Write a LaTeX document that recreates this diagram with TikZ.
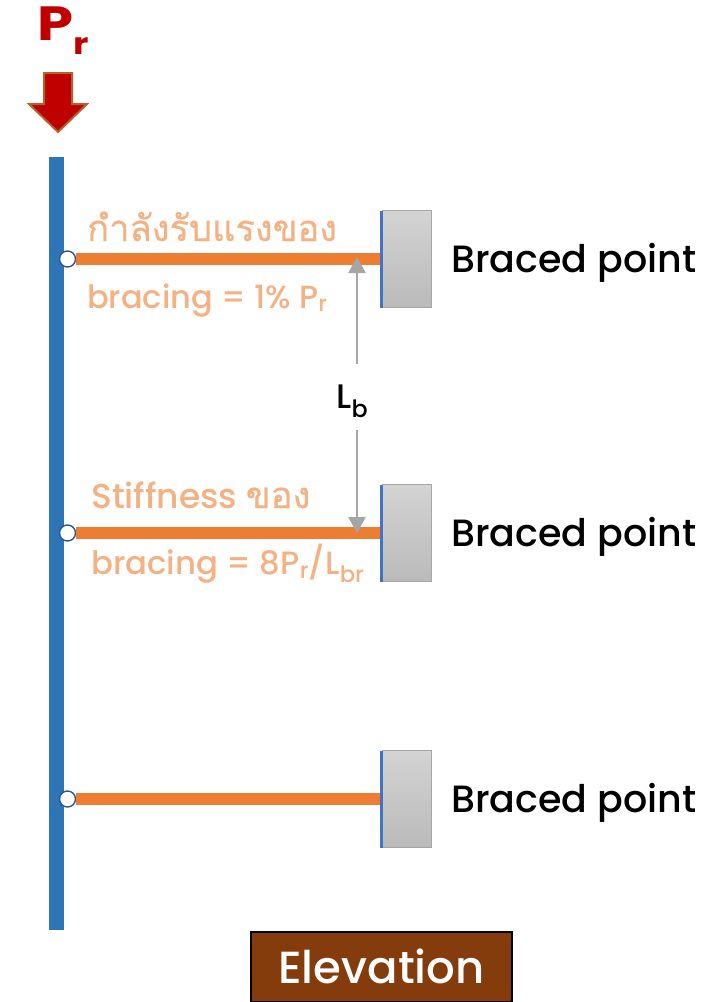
\documentclass[tikz,border=0pt]{standalone}
\usepackage{fontspec}
\setmainfont{Poppins Medium}
\newfontfamily\thaifont[Script=Thai,FakeBold=0.6]{Loma}
\newfontfamily\loadfont[FakeStretch=1.2]{Poppins Bold}
\usetikzlibrary{arrows.meta}
\definecolor{barblue}{HTML}{2E75B6}
\definecolor{ties}{HTML}{ED7D31}
\definecolor{tiet}{HTML}{F4B183}
\definecolor{loadred}{HTML}{C00000}
\definecolor{loadedge}{HTML}{B5622A}
\definecolor{brown}{HTML}{843C0C}
\definecolor{dimgrey}{HTML}{A6A6A6}
\definecolor{edgeblue}{HTML}{4472C4}
\definecolor{pinblue}{HTML}{2F5597}
\definecolor{boxtop}{HTML}{D3D3D3}
\definecolor{boxbot}{HTML}{BABABA}
\tikzset{
  x=1pt,y=-1pt,
  support/.style={draw=dimgrey,line width=1.2pt,top color=boxtop,bottom color=boxbot,minimum width=49pt,minimum height=97pt,inner sep=0pt,outer sep=0pt},
  pin/.style={circle,draw=pinblue,fill=white,line width=1.4pt,minimum size=16pt,inner sep=0pt,outer sep=0pt},
  tie/.style={draw=ties,line width=12pt},
  lbl/.style={font=\fontsize{38}{38}\selectfont,text=black,inner sep=0pt,anchor=base west},
  note/.style={font=\fontsize{32}{32}\selectfont,text=tiet,inner sep=0pt,anchor=base west},
  dim/.style={draw=dimgrey,line width=2.7pt,-{Triangle[length=16pt,width=17pt]}}
}
\begin{document}
\begin{tikzpicture}
\useasboundingbox (0,0) rectangle (723,1002);
\fill[barblue] (49,157) rectangle (64,930);
\node[support] (s1) at (407,259) {};
\node[support] (s2) at (407,533) {};
\node[support] (s3) at (407,799) {};
\foreach \n in {s1,s2,s3}{\fill[edgeblue] ([xshift=-3pt]\n.south west) rectangle (\n.north west);}
\node[pin] (p1) at (67.5,259) {};
\node[pin] (p2) at (67.5,533) {};
\node[pin] (p3) at (67.5,799) {};
\draw[tie] (p1.east) -- ([xshift=-3pt]s1.west);
\draw[tie] (p2.east) -- ([xshift=-3pt]s2.west);
\draw[tie] (p3.east) -- ([xshift=-3pt]s3.west);
\node[lbl] (b1) at (451,272) {Braced point};
\node[lbl] (b2) at (451,546) {Braced point};
\node[lbl] (b3) at (451,812) {Braced point};
\node[inner sep=0pt,anchor=base,font=\fontsize{34}{34}\selectfont] (lb) at (352.5,408) {L\textsubscript{b}};
\coordinate (t1) at (357,257);
\coordinate (t2) at (357,533);
\coordinate (a1) at (357,364);
\coordinate (a2) at (357,430);
\draw[dim] (a1) -- (t1);
\draw[dim] (a2) -- (t2);
\node[note,font=\fontsize{36.3}{36}\selectfont\thaifont] (n1) at (87,241) {กำลังรับแรงของ};
\node[note] (n2) at (87,308) {bracing = 1\% P\textsubscript{r}};
\node[note] (n3) at (91,508) {{\fontsize{34.5}{34}\selectfont Stiffness} {\fontsize{36.5}{36}\selectfont\thaifont ของ}};
\node[note,font=\fontsize{32.3}{32}\selectfont] (n4) at (91,574) {bracing = 8P\textsubscript{r}/L\textsubscript{br}};
\node[inner sep=0pt,anchor=base west,text=loadred,font=\fontsize{48}{48}\loadfont] (pr) at (37,40) {P\raisebox{-14pt}{\fontsize{30}{30}\selectfont r}};
\draw[loadedge,fill=loadred,line width=2pt,line join=miter]
  (44,73) -- (72,73) -- (72,104) -- (87,104) -- (58,132) -- (29,104) -- (44,104) -- cycle;
\node[draw=black,line width=2pt,fill=brown,minimum width=261pt,minimum height=70pt,inner sep=0pt] (el) at (381.5,967) {};
\node[text=white,inner sep=0pt,anchor=base,font=\fontsize{45}{45}\selectfont] (elt) at (381.5,983) {Elevation};
\end{tikzpicture}
\end{document}
